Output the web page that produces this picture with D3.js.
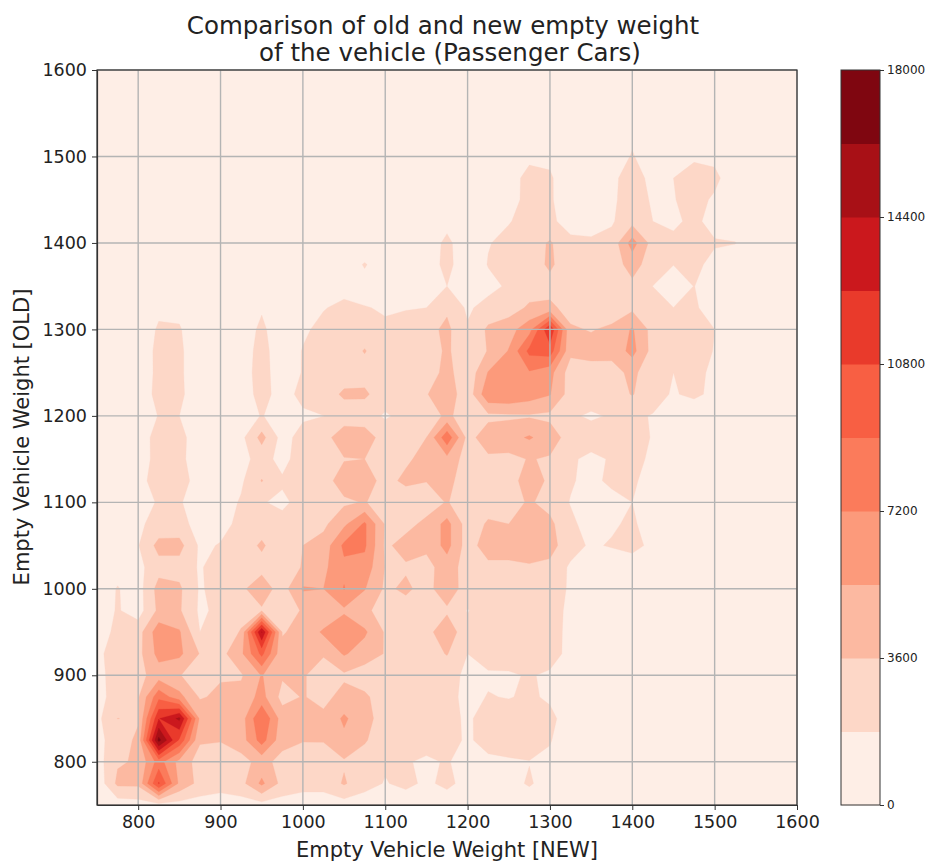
<!DOCTYPE html>
<html><head><meta charset="utf-8">
<script src="https://cdn.jsdelivr.net/npm/d3@7/dist/d3.min.js"></script>
<style>html,body{margin:0;padding:0;background:#fff}svg{display:block}text{font-family:"DejaVu Sans",sans-serif;fill:#222}</style>
</head><body><svg id="c" width="936" height="862"></svg>
<script>
const newWeights = d3.range(750, 1601, 25);
const oldWeights = d3.range(750, 1601, 25);
const levels = [0,1800,3600,5400,7200,9000,10800,12600,14400,16200,18000];
const bandColors = ["#feeee6","#fdd7c7","#fcb9a1","#fc9a7b","#fb7b5b","#f85f43","#e93a2b","#cb181d","#a81016","#7f0610"];
const axisTicks = [800,900,1000,1100,1200,1300,1400,1500,1600];
const barTicks = [0,3600,7200,10800,14400,18000];
// one row per OLD weight (750, 775, ...), columns follow NEW weight; missing cells are 0
const counts = [
[500,800,1000,1100,1100,1000,900,1000,1100,1000,900,900,1000,900,800,800,700,800,600,600,600,700,500,100],
[500,4000,4000,11000,5000,3000,2500,3000,5800,3000,2400,2400,3800,2400,1700,2200,1500,2200,1200,1200,1200,2000,1000,200],
[1000,3400,3800,8000,4800,2800,2600,3000,4200,3000,2600,2700,3400,2700,2000,1900,1600,1900,1300,1500,1700,1750,1500,500],
[1300,2600,4000,16800,10500,3800,3700,4500,8000,4200,3700,3700,5000,3800,2400,2300,2300,2300,1600,2300,2200,2600,1900,800],
[1300,3620,3400,12500,14800,5000,4000,4500,9000,4500,3900,4000,5700,4200,2800,2400,2400,2400,1500,2600,2800,2900,2300,800],
[1300,2400,3400,8500,6000,3400,4000,4200,6000,3000,3700,3100,4200,3900,2700,2500,2400,2500,1200,1900,1700,2100,1500,300],
[1300,2500,3000,4500,3700,2500,3400,3400,5500,3800,3800,2600,3300,2700,2500,2800,2500,2500,1400,1500,1500,2000,1400,0],
[1300,2800,3000,6000,5800,3500,3000,5000,9500,4000,3900,3800,5600,4500,3500,2900,2800,3700,1800,2800,3000,3000,2900,1000],
[1000,2200,2800,6500,5600,1800,2000,3800,14500,3500,4000,5700,6800,5700,3400,3000,3000,4800,2300,3000,3000,3000,3000,1000],
[800,1950,1000,4000,3800,1500,2200,2700,3400,2500,3800,3700,5100,3900,3000,2900,2800,3300,1700,2900,3000,3000,2900,1200],
[700,1900,1000,4300,3900,1600,2500,3300,4500,2800,5600,5400,7300,5500,3300,3900,3000,4700,2700,3000,3100,3500,2900,1500],
[500,1200,1300,2900,2900,1600,2800,2900,3100,2800,3700,5000,6800,6500,3500,3400,3000,4500,2800,3100,3200,3300,3200,1500],
[300,800,1700,4200,4200,1500,1900,2900,3800,2700,3600,4300,7600,7500,3300,4200,4000,6000,2700,4600,4400,5100,4200,2600,1500,2000,2800,1000],
[200,500,1500,2400,2500,1000,1300,2200,3000,2300,2500,3200,5000,7500,3400,3100,4000,6000,2700,3800,3600,4700,4000,2200,1000,1500,2200,500],
[100,300,900,2000,2000,700,800,2000,1900,1500,2300,2800,3300,3700,2800,2400,2800,3700,2700,2900,2900,3800,3000,1700,800,1000,1800,300],
[100,200,1200,2600,2700,900,700,1500,3700,2000,2700,2900,4400,4400,3000,4000,3650,4100,2700,2900,2900,4400,3300,2000,1200,2300,2300,500],
[100,200,800,2500,2300,700,600,1300,2400,1300,2600,2800,3500,3600,2900,3300,4200,4800,2800,3300,3100,3700,3400,2100,1300,2000,2600,1300],
[100,200,700,2600,2500,500,400,1300,4200,1100,2500,2900,4700,4600,2700,2600,3600,8500,3000,4500,4800,5600,4500,2800,2800,2800,3000,1600],
[0,100,300,1900,1800,300,200,800,1900,900,1500,1780,2600,2500,1600,2300,2500,4000,2600,3200,3300,3400,3200,2100,1500,2000,2100,1700,600],
[0,100,400,2500,2300,300,200,900,2400,1100,2300,2700,3900,3900,2600,2500,3500,4700,2400,6800,7000,6300,5500,2800,2900,2800,3700,2500,1600,2300,1200],
[0,100,500,2300,2200,300,200,1000,2500,800,1900,2600,2700,2900,2600,2400,2600,4200,2300,5500,6800,7000,6000,2700,2900,3000,4000,2500,1800,2600,1200],
[0,100,300,2400,2200,300,200,800,2500,600,1900,2500,2700,3700,2500,2400,2600,3900,2300,3700,5500,9500,10000,4000,4200,4100,6000,2900,2800,2700,1700],
[0,0,200,2100,2000,200,100,700,2200,500,1500,2300,2600,2800,2100,2500,3000,4000,2000,3900,4700,6500,12500,3800,3500,3900,5600,2900,2900,2700,1800],
[0,0,100,1300,1200,100,0,500,1600,300,800,1700,2200,1900,1600,1700,1800,3300,1500,2500,2700,3900,3950,3000,2700,2700,3200,2500,1820,2100,800],
[0,0,0,200,200,0,0,100,300,0,200,700,1200,900,500,300,600,1800,300,1200,2100,2700,3000,2700,2600,2600,3200,1780,500,1850,300],
[0,0,0,0,0,0,0,0,0,0,0,0,300,2000,300,100,500,2500,200,1900,2200,2700,3900,2500,2600,2700,4300,2700,1850,2300,1200],
[0,0,0,0,0,0,0,0,0,0,0,0,0,0,0,100,300,2400,100,1700,2300,2700,3800,2300,2200,2400,6200,2800,2300,2400,2000,1900],
[0,0,0,0,0,0,0,0,0,0,0,0,0,0,0,0,100,1000,0,600,1700,2400,2200,1000,800,1600,3000,1800,1400,2300,1000],
[0,0,0,0,0,0,0,0,0,0,0,0,0,0,0,0,0,0,0,200,1200,2300,2100,300,200,1500,2600,1600,1700,2500,1500],
[0,0,0,0,0,0,0,0,0,0,0,0,0,0,0,0,0,0,0,100,1000,2400,2100,200,100,1500,2400,1400,1800,2600,2300,500],
[0,0,0,0,0,0,0,0,0,0,0,0,0,0,0,0,0,0,0,0,200,1400,1300,100,0,400,2000,300,500,1500,1300],
[0,0,0,0,0,0,0,0,0,0,0,0,0,0,0,0,0,0,0,0,0,300,300,0,0,0,1300,100,0,300,200]
];

const svg = d3.select("#c");
const box = {left:97,right:797,top:70,bottom:805};
const x = d3.scaleLinear().domain([750,1600]).range([box.left,box.right]);
const y = d3.scaleLinear().domain([750,1600]).range([box.bottom,box.top]);

// contour grid
const n = newWeights.length, m = oldWeights.length;
const grid = [];
for (let j=0;j<m;j++) for (let i=0;i<n;i++) grid.push((counts[j]&&counts[j][i])||0);
const bands = d3.contours().size([n,m]).thresholds(levels.slice(0,-1))(grid);
const step = newWeights[1]-newWeights[0];
const path = d3.geoPath(d3.geoTransform({point(px,py){
  this.stream.point(x(newWeights[0]+(px-0.5)*step), y(oldWeights[0]+(py-0.5)*step));
}}));

svg.append("clipPath").attr("id","plot").append("rect")
  .attr("x",box.left).attr("y",box.top).attr("width",box.right-box.left).attr("height",box.bottom-box.top);
svg.append("rect").attr("x",box.left).attr("y",box.top).attr("width",box.right-box.left).attr("height",box.bottom-box.top).attr("fill",bandColors[0]);
svg.append("g").attr("clip-path","url(#plot)").selectAll("path").data(bands).join("path")
  .attr("d",path).attr("fill",(d,i)=>bandColors[i]).attr("stroke",(d,i)=>bandColors[i]).attr("stroke-width",0.3);

// grid lines
const gridG = svg.append("g").attr("stroke","#b4b4b4").attr("stroke-width",1.4);
gridG.selectAll(".vg").data(axisTicks).join("line").attr("x1",d=>x(d)).attr("x2",d=>x(d)).attr("y1",box.top).attr("y2",box.bottom);
gridG.selectAll(".hg").data(axisTicks).join("line").attr("y1",d=>y(d)).attr("y2",d=>y(d)).attr("x1",box.left).attr("x2",box.right);

// axes
function style(g,fs){
  g.selectAll("text").style("font-size",fs+"px").style("font-family",'"DejaVu Sans"').attr("fill","#222");
  g.selectAll("line").attr("stroke","#333");
  g.selectAll("path").attr("stroke","#333").attr("stroke-width",1.2);
}
svg.append("g").attr("transform",`translate(0,${box.bottom})`).call(d3.axisBottom(x).tickValues(axisTicks).tickFormat(d3.format("d")).tickSize(5).tickPadding(6).tickSizeOuter(0)).call(g=>style(g,17.5));
svg.append("g").attr("transform",`translate(${box.left},0)`).call(d3.axisLeft(y).tickValues(axisTicks).tickFormat(d3.format("d")).tickSize(5).tickPadding(5).tickSizeOuter(0)).call(g=>style(g,17.5));
svg.append("rect").attr("x",box.left).attr("y",box.top).attr("width",box.right-box.left).attr("height",box.bottom-box.top).attr("fill","none").attr("stroke","#333").attr("stroke-width",1.2);

// titles
svg.append("text").attr("x",443).attr("y",34).attr("text-anchor","middle").style("font-size","24.5px").text("Comparison of old and new empty weight");
svg.append("text").attr("x",450).attr("y",61).attr("text-anchor","middle").style("font-size","24.5px").text("of the vehicle (Passenger Cars)");
svg.append("text").attr("x",447).attr("y",857).attr("text-anchor","middle").style("font-size","21px").text("Empty Vehicle Weight [NEW]");
svg.append("text").attr("transform",`translate(29,437) rotate(-90)`).attr("text-anchor","middle").style("font-size","21px").text("Empty Vehicle Weight [OLD]");

// colorbar
const cb = {left:841,right:880};
const c = d3.scaleLinear().domain([0,18000]).range([box.bottom,box.top]);
svg.append("g").selectAll("rect").data(bandColors).join("rect")
  .attr("x",cb.left).attr("width",cb.right-cb.left)
  .attr("y",(d,i)=>c(levels[i+1])).attr("height",(d,i)=>c(levels[i])-c(levels[i+1])+0.5).attr("fill",d=>d);
svg.append("g").attr("transform",`translate(${cb.right},0)`).call(d3.axisRight(c).tickValues(barTicks).tickFormat(d3.format("d")).tickSize(4).tickPadding(3).tickSizeOuter(0)).call(g=>{style(g,12);g.select("path").remove();});
svg.append("rect").attr("x",cb.left).attr("y",box.top).attr("width",cb.right-cb.left).attr("height",box.bottom-box.top).attr("fill","none").attr("stroke","#333").attr("stroke-width",1);
</script></body></html>
